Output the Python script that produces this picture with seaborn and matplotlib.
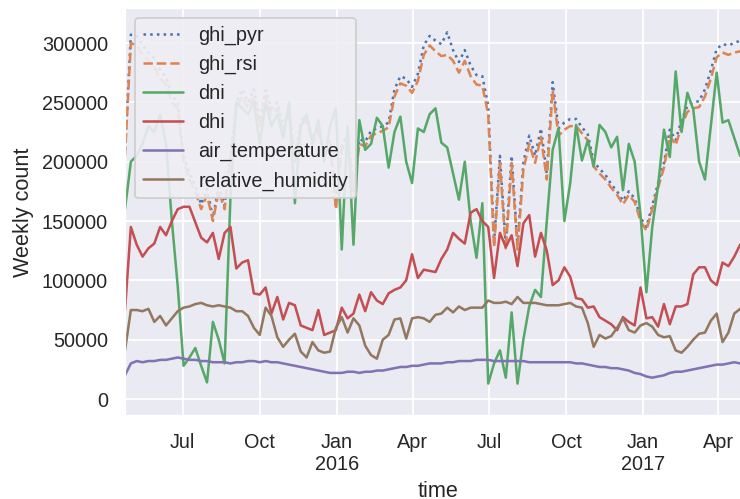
import numpy as np
import pandas as pd
import seaborn as sns
import matplotlib.pyplot as plt
import matplotlib.dates as mdates
from matplotlib.ticker import FuncFormatter

# weekly totals (values in thousands)
weeks = pd.date_range('2015-04-23', periods=107, freq='7D')

ghi_pyr = [210, 307, 306, 298, 292, 287, 277, 271, 256, 250,
           205, 190, 180, 164, 177, 153, 179, 163, 205, 250,
           261, 250, 261, 235, 260, 245, 250, 229, 245, 204,
           234, 239, 219, 229, 208, 218, 163, 213, 224, 178,
           219, 217, 226, 228, 230, 233, 261, 272, 270, 263,
           274, 298, 306, 302, 299, 309, 294, 284, 294, 281,
           273, 272, 247, 132, 205, 130, 205, 130, 199, 222,
           205, 228, 190, 267, 228, 233, 236, 236, 229, 223,
           200, 194, 189, 181, 175, 167, 175, 169, 153, 145,
           163, 182, 199, 227, 218, 235, 247, 250, 251, 261,
           277, 295, 299, 298, 300, 302, 300]
ghi_rsi = [205, 300, 298, 290, 285, 280, 270, 265, 250, 245,
           200, 185, 175, 160, 172, 150, 175, 160, 200, 245,
           255, 245, 255, 230, 255, 240, 245, 225, 240, 200,
           230, 235, 215, 225, 205, 215, 160, 210, 220, 175,
           215, 213, 222, 224, 226, 229, 255, 266, 264, 258,
           268, 290, 298, 293, 289, 290, 285, 275, 285, 272,
           265, 264, 240, 128, 199, 126, 199, 126, 193, 215,
           199, 221, 185, 260, 222, 227, 230, 230, 224, 218,
           196, 190, 185, 178, 172, 164, 172, 166, 150, 142,
           160, 178, 195, 222, 214, 230, 242, 245, 246, 255,
           270, 288, 292, 290, 292, 293, 290]
dni = [160, 200, 205, 215, 230, 225, 240, 215, 150, 95,
       28, 35, 43, 28, 14, 65, 50, 30, 170, 250,
       245, 240, 250, 215, 250, 230, 240, 220, 250, 165,
       230, 240, 215, 235, 200, 230, 245, 126, 230, 130,
       235, 210, 215, 237, 230, 195, 225, 238, 200, 182,
       228, 225, 240, 245, 216, 212, 190, 168, 200, 150,
       119, 165, 13, 30, 41, 18, 73, 13, 50, 78,
       92, 86, 150, 210, 228, 150, 182, 231, 201, 218,
       196, 231, 225, 212, 221, 176, 215, 200, 155, 90,
       145, 180, 227, 204, 276, 225, 258, 244, 200, 185,
       230, 275, 233, 235, 220, 205, 210]
dhi = [75, 145, 130, 120, 127, 131, 145, 138, 150, 160,
       162, 162, 149, 136, 132, 140, 118, 140, 145, 110,
       115, 117, 89, 88, 94, 72, 86, 67, 81, 79,
       62, 60, 58, 75, 54, 56, 58, 77, 68, 72,
       88, 74, 90, 83, 80, 89, 92, 94, 100, 122,
       102, 109, 108, 107, 118, 126, 140, 135, 131, 157,
       160, 150, 145, 102, 140, 128, 138, 112, 148, 155,
       120, 140, 125, 96, 100, 111, 103, 85, 84, 77,
       78, 69, 66, 63, 58, 69, 65, 62, 94, 68,
       69, 61, 80, 63, 78, 78, 80, 105, 111, 111,
       100, 96, 115, 112, 120, 130, 135]
air_temperature = [20, 30, 32, 31, 32, 32, 33, 33, 34, 35,
                   34, 33, 33, 32, 32, 31, 31, 31, 30, 31,
                   31, 32, 32, 31, 32, 31, 31, 30, 29, 28,
                   27, 26, 25, 24, 23, 22, 22, 22, 23, 23,
                   22, 23, 23, 24, 24, 25, 26, 27, 27, 28,
                   28, 29, 30, 30, 30, 31, 31, 32, 32, 32,
                   33, 33, 33, 32, 32, 32, 32, 32, 32, 31,
                   31, 31, 31, 31, 31, 31, 31, 30, 30, 29,
                   28, 27, 27, 26, 26, 25, 24, 22, 21, 19,
                   18, 19, 20, 22, 23, 23, 24, 25, 26, 27,
                   28, 29, 29, 30, 31, 30, 30]
relative_humidity = [41, 75, 75, 74, 76, 65, 70, 62, 68, 74,
                     77, 78, 80, 81, 79, 78, 79, 78, 77, 74,
                     74, 70, 60, 54, 77, 70, 52, 44, 50, 55,
                     40, 35, 48, 41, 39, 40, 60, 69, 56, 68,
                     62, 45, 37, 34, 50, 54, 67, 68, 51, 68,
                     69, 68, 65, 71, 72, 77, 73, 78, 75, 77,
                     77, 77, 83, 81, 81, 82, 80, 86, 81, 81,
                     81, 80, 79, 79, 79, 80, 81, 78, 77, 64,
                     44, 54, 51, 53, 60, 68, 58, 56, 62, 64,
                     61, 54, 52, 53, 41, 39, 44, 50, 55, 56,
                     66, 72, 48, 56, 72, 76, 74]

names = ['ghi_pyr', 'ghi_rsi', 'dni', 'dhi', 'air_temperature', 'relative_humidity']
series = [ghi_pyr, ghi_rsi, dni, dhi, air_temperature, relative_humidity]
styles = [':', '--', '-', '-', '-', '-']

sns.set_theme(style='darkgrid')
plt.rcParams['font.family'] = ['Liberation Sans', 'DejaVu Sans']
colors = sns.color_palette('deep')

fig = plt.figure(figsize=(740 / 130, 499 / 130), dpi=130)
ax = fig.add_axes([125 / 740, 83 / 499, 626 / 740, 408 / 499])

for i, (name, vals, ls) in enumerate(zip(names, series, styles)):
    sns.lineplot(x=weeks, y=np.array(vals) * 1000, label=name, linestyle=ls,
                 color=colors[i], linewidth=1.4, ax=ax)

ax.set_xlim(pd.Timestamp('2015-04-23'), pd.Timestamp('2017-05-10'))
ax.set_ylim(-14300, 329500)

ax.xaxis.set_major_locator(mdates.MonthLocator(bymonth=[1, 4, 7, 10]))
def month_fmt(x, pos):
    d = mdates.num2date(x)
    if d.month == 1:
        return d.strftime('%b') + '\n' + str(d.year)
    return d.strftime('%b')
ax.xaxis.set_major_formatter(FuncFormatter(month_fmt))

ax.set_xlabel('time')
ax.set_ylabel('Weekly count')
leg = ax.legend(loc='upper left', framealpha=0.9)
leg.get_frame().set_facecolor('#eeeef4')

fig.savefig('out.png', dpi=130)
